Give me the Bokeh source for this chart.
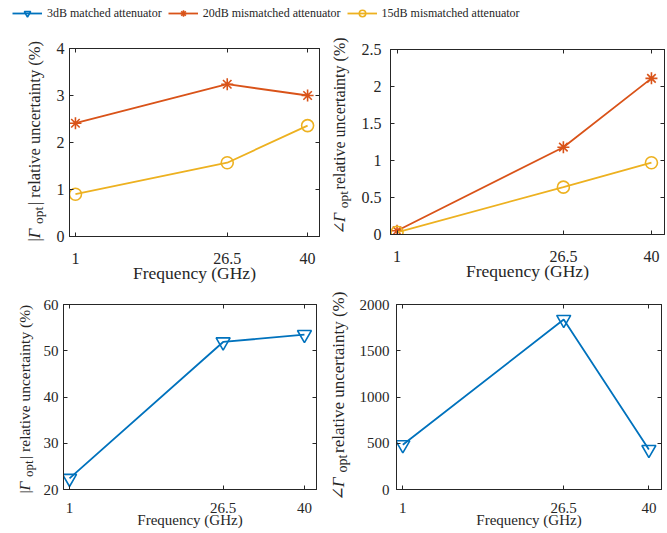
from bokeh.plotting import figure
from bokeh.models import (Range1d, FixedTicker, LinearAxis, Label, Legend, LegendItem,
                          NumeralTickFormatter, CustomJSTickFormatter)
from bokeh.layouts import column, row
from bokeh.embed import file_html
from bokeh.resources import INLINE

# ---------------- data ----------------
freq_ghz = [1, 26.5, 40]
mag_20db = [2.41, 3.24, 3.00]
mag_15db = [0.90, 1.57, 2.36]
ang_20db = [0.05, 1.18, 2.11]
ang_15db = [0.03, 0.64, 0.97]
mag_3db = [22.4, 51.9, 53.5]
ang_3db = [483, 1838, 432]

x_ticks = [1, 26.5, 40]
mag_small_ticks = [0, 1, 2, 3, 4]
ang_small_ticks = [0, 0.5, 1, 1.5, 2, 2.5]
mag_3db_ticks = [20, 30, 40, 50, 60]
ang_3db_ticks = [0, 500, 1000, 1500, 2000]

series_names = ["3dB matched attenuator", "20dB mismatched attenuator", "15dB mismatched attenuator"]
x_label = "Frequency (GHz)"
y_suffix = "relative uncertainty (%)"

# ---------------- style ----------------
BLUE, RED, YELLOW = "#0072BD", "#D95319", "#EDB120"
INK = "#262626"
FONT = "Liberation Serif"


def make_panel(w, h, bl, br, bt, bb, yr, yticks, tick_fs, xlab_fs, xstand, xlab_stand, ystand):
    p = figure(width=w, height=h, x_range=Range1d(0, 42), y_range=Range1d(*yr),
               output_backend="svg", toolbar_location=None, frame_align=False,
               min_border_left=bl, min_border_right=br, min_border_top=bt, min_border_bottom=bb)
    p.grid.visible = False
    p.outline_line_color = INK
    p.outline_line_width = 1
    p.xaxis.ticker = FixedTicker(ticks=x_ticks)
    p.yaxis.ticker = FixedTicker(ticks=yticks)
    p.xaxis.formatter = NumeralTickFormatter(format="0.[0]")
    p.yaxis.formatter = NumeralTickFormatter(format="0.[0]")
    for ax in (p.xaxis[0], p.yaxis[0]):
        ax.major_tick_in = 4
        ax.major_tick_out = 0
        ax.minor_tick_line_color = None
        ax.axis_line_color = INK
        ax.major_tick_line_color = INK
        ax.major_label_text_font = FONT
        ax.major_label_text_font_size = f"{tick_fs}px"
        ax.major_label_text_color = INK
    p.xaxis.major_label_standoff = xstand
    p.yaxis.major_label_standoff = ystand
    p.xaxis.axis_label = x_label
    p.xaxis.axis_label_text_font = FONT
    p.xaxis.axis_label_text_font_style = "normal"
    p.xaxis.axis_label_text_font_size = f"{xlab_fs}px"
    p.xaxis.axis_label_text_color = INK
    p.xaxis.axis_label_standoff = xlab_stand
    blank = CustomJSTickFormatter(code="return ''")
    for side, ticks in (("right", yticks), ("above", x_ticks)):
        ax = LinearAxis(ticker=FixedTicker(ticks=ticks), formatter=blank,
                        major_tick_in=4, major_tick_out=0, minor_tick_line_color=None,
                        axis_line_color=INK, major_tick_line_color=INK, major_label_standoff=0)
        p.add_layout(ax, side)
    return p


def label_strip(w, h, symbol, xb, start, fs, sub_fs, shift):
    """Thin figure holding the rotated y-axis title of the panel to its right."""
    s = figure(width=w, height=h, x_range=Range1d(0, w), y_range=Range1d(0, h),
               output_backend="svg", toolbar_location=None, x_axis_type=None, y_axis_type=None,
               min_border=0, min_border_left=0, min_border_right=0, min_border_top=0,
               min_border_bottom=0, frame_align=False)
    s.grid.visible = False
    s.outline_line_color = None
    if symbol == "|":
        pieces = [("|", fs, "normal", FONT, 0, 0.2 * fs),
                  ("Γ", fs, "italic", FONT, 0, 0.86 * fs),
                  ("opt", sub_fs, "normal", FONT, shift, 1.28 * sub_fs + 0.1 * fs),
                  ("| " + y_suffix, fs, "normal", FONT, 0, 0)]
    else:
        pieces = [("∠", fs, "normal", "DejaVu Serif", 0, 0.78 * fs),
                  ("Γ", fs, "italic", FONT, 0, 0.86 * fs),
                  ("opt", sub_fs, "normal", FONT, shift, 1.28 * sub_fs + 0.1 * fs),
                  (" " + y_suffix, fs, "normal", FONT, 0, 0)]
    pos = start
    for t, f, style, font, sh, adv in pieces:
        s.add_layout(Label(x=xb + sh, y=pos, text=t, angle=90, angle_units="deg",
                           text_font=font, text_font_size=f"{f}px", text_font_style=style,
                           text_color=INK, text_align="left", text_baseline="alphabetic"))
        pos += adv
    return s


def add_series(p, y, color, marker, size):
    p.line(freq_ghz, y, line_color=color, line_width=1.8)
    p.scatter(freq_ghz, y, marker=marker, size=size, line_color=color, fill_color=None, line_width=1.6)


# ---------------- panels ----------------
H1, H2 = 259, 247
p1 = make_panel(279, H1, 19, 10, 22, 49, (0, 4), mag_small_ticks, 16, 17.5, 16, -4, 5)
add_series(p1, mag_20db, RED, "asterisk", 12)
add_series(p1, mag_15db, YELLOW, "circle", 12)
yl1 = label_strip(50, H1, "|", 34, 44, 16.5, 13.5, 4)

p2 = make_panel(310, H1, 34, 2, 23, 51, (0, 2.5), ang_small_ticks, 16, 17.5, 16, -4, 9)
add_series(p2, ang_20db, RED, "asterisk", 12)
add_series(p2, ang_15db, YELLOW, "circle", 12)
yl2 = label_strip(27, H1, "∠", 10, 51, 16, 13.5, 4)

p3 = make_panel(289, H2, 18, 13, 19, 43, (20, 60), mag_3db_ticks, 15, 15, 13, -4, 5)
add_series(p3, mag_3db, BLUE, "inverted_triangle", 14)
yl3 = label_strip(40, H2, "|", 24, 39, 15.5, 13, 4)

p4 = make_panel(310, H2, 40, 5, 19, 43, (0, 2000), ang_3db_ticks, 15, 15, 13, -4, 7)
add_series(p4, ang_3db, BLUE, "inverted_triangle", 14)
yl4 = label_strip(27, H2, "∠", 8.5, 32, 17, 14, 4)

# ---------------- legend strip ----------------
lg = figure(width=666, height=26, x_range=Range1d(100, 200), y_range=Range1d(100, 200),
            output_backend="svg", toolbar_location=None, x_axis_type=None, y_axis_type=None,
            min_border=0, frame_align=False)
lg.grid.visible = False
lg.outline_line_color = None
items = []
for name, y, color, marker, size in ((series_names[0], mag_3db, BLUE, "inverted_triangle", 14),
                                     (series_names[1], mag_20db, RED, "asterisk", 12),
                                     (series_names[2], mag_15db, YELLOW, "circle", 12)):
    r1 = lg.line(freq_ghz, y, line_color=color, line_width=1.8)
    r2 = lg.scatter(freq_ghz, y, marker=marker, size=size, line_color=color, fill_color=None, line_width=1.6)
    items.append(LegendItem(label=name, renderers=[r1, r2]))
leg = Legend(items=items, orientation="horizontal", location=(12, 5), glyph_width=30, glyph_height=16,
             label_height=16, label_standoff=5, spacing=6, padding=3, margin=0,
             border_line_color=None, background_fill_alpha=0,
             label_text_font=FONT, label_text_font_size="12px", label_text_color=INK)
lg.add_layout(leg, "center")

layout = column(lg, row(yl1, p1, yl2, p2), row(yl3, p3, yl4, p4))
open("out.html", "w").write(file_html(layout, INLINE))
